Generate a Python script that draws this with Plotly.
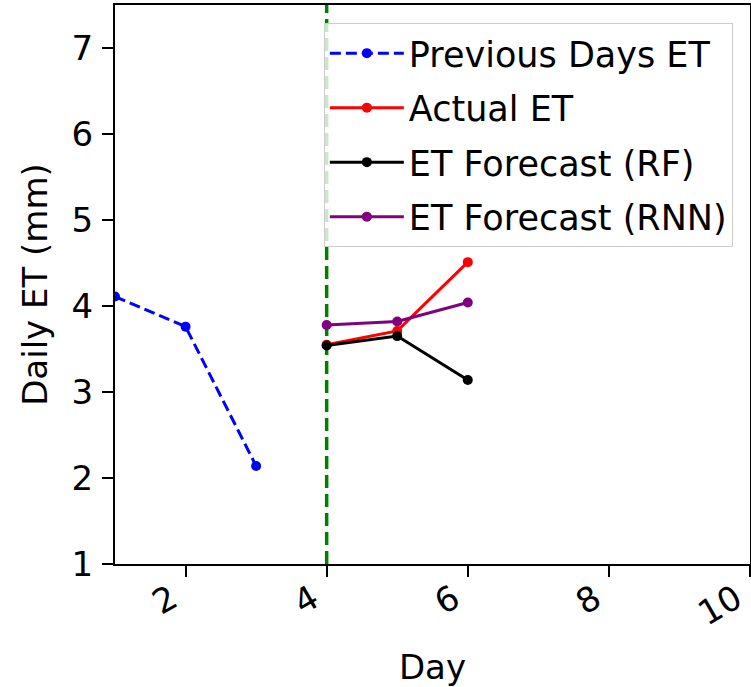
import plotly.graph_objects as go

prev_days = [1, 2, 3]
prev_et = [4.11, 3.76, 2.14]
fc_days = [4, 5, 6]
actual_et = [3.55, 3.71, 4.51]
rf_et = [3.54, 3.65, 3.14]
rnn_et = [3.78, 3.82, 4.04]
forecast_start = 4
x_ticks = [2, 4, 6, 8, 10]
y_ticks = [1, 2, 3, 4, 5, 6, 7]

FONT = "DejaVu Sans"
FS = 34

fig = go.Figure()
series = [
    ("Previous Days ET", prev_days, prev_et, "#0000ff", "11px,5px"),
    ("Actual ET", fc_days, actual_et, "#ff0000", "solid"),
    ("ET Forecast (RF)", fc_days, rf_et, "#000000", "solid"),
    ("ET Forecast (RNN)", fc_days, rnn_et, "#800080", "solid"),
]
for i, (name, xs, ys, col, dash) in enumerate(series):
    fig.add_trace(go.Scatter(
        x=xs, y=ys, name=name, mode="lines+markers",
        line=dict(color=col, width=3, dash=dash),
        marker=dict(color=col, size=10),
        legendgroup=f"g{i}",
    ))

fig.add_vline(x=forecast_start, line=dict(color="#008000", width=3.5, dash="13px,6px"), layer="below")

axis_common = dict(
    showline=True, linecolor="#000000", linewidth=2, mirror=True,
    ticks="outside", ticklen=11, tickwidth=2, tickcolor="#000000",
    showgrid=False, zeroline=False, automargin=False,
    tickfont=dict(family=FONT, size=FS, color="#000000"),
)
fig.update_xaxes(range=[1, 10], tickvals=x_ticks, tickangle=-30,
                 ticklabeloverflow="allow", ticklabelshift=-14, ticklabelstandoff=-11,
                 title=dict(text="Day", font=dict(family=FONT, size=FS, color="#000000"), standoff=31),
                 **axis_common)
fig.update_yaxes(range=[1, 7.5], tickvals=y_ticks, ticklabelstandoff=2,
                 title=dict(text="Daily ET (mm)", font=dict(family=FONT, size=FS, color="#000000"), standoff=14),
                 **axis_common)

fig.update_layout(
    width=751, height=687,
    margin=dict(l=115, r=1, t=5, b=123),
    plot_bgcolor="white", paper_bgcolor="white",
    font=dict(family=FONT, size=FS, color="#000000"),
    legend=dict(
        x=0.973, y=0.968, xanchor="right", yanchor="top",
        bgcolor="rgba(255,255,255,0.8)", bordercolor="#cccccc", borderwidth=1,
        font=dict(family=FONT, size=35, color="#000000"),
        traceorder="grouped", tracegroupgap=6, itemwidth=74,
    ),
)

fig.write_html("out.html")
